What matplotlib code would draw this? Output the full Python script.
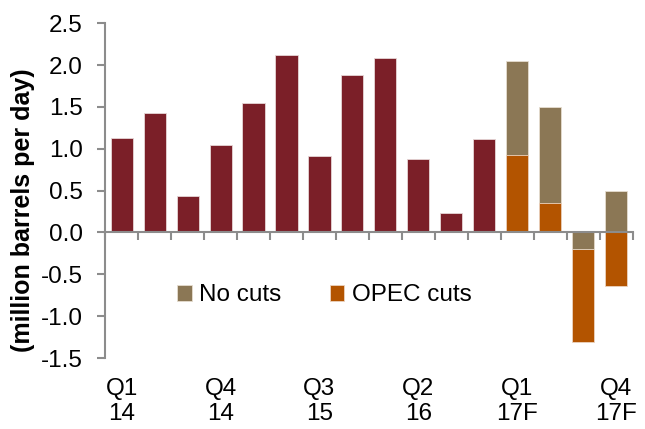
import matplotlib.pyplot as plt
import numpy as np

plt.rcParams['font.family'] = ['Liberation Sans', 'DejaVu Sans']

quarters = ['Q1 14', 'Q2 14', 'Q3 14', 'Q4 14', 'Q1 15', 'Q2 15', 'Q3 15', 'Q4 15',
            'Q1 16', 'Q2 16', 'Q3 16', 'Q4 16', 'Q1 17F', 'Q2 17F', 'Q3 17F', 'Q4 17F']
actual = [1.13, 1.43, 0.43, 1.05, 1.55, 2.12, 0.91, 1.88, 2.08, 0.88, 0.23, 1.12]
no_cuts = [2.05, 1.50, -0.20, 0.49]
opec_cuts = [0.92, 0.355, -1.31, -0.645]
tick_labels = ['Q1\n14', 'Q4\n14', 'Q3\n15', 'Q2\n16', 'Q1\n17F', 'Q4\n17F']
tick_every = 3

c_actual = '#7b1f28'
c_nocuts = '#8b7755'
c_opec = '#b35400'
grey = '#8c8c8c'
fs = 17.5

fig = plt.figure(figsize=(6.45, 4.29), dpi=100)
ax = fig.add_axes([0.163, 0.1655, 0.818, 0.7805])

x = np.arange(len(quarters))
xf = x[len(actual):]
w = 0.67
ax.bar(x[:len(actual)], actual, width=w, color=c_actual, edgecolor='#e6d6d6', linewidth=0.6)
b1 = ax.bar(xf, no_cuts, width=w, color=c_nocuts, edgecolor='#e6ddd0', linewidth=0.6, label='No cuts')
b2 = ax.bar(xf, opec_cuts, width=w, color=c_opec, edgecolor='#ecd3c0', linewidth=0.6, label='OPEC cuts')
# smaller bar drawn on top
for p1, p2, a, b in zip(b1, b2, no_cuts, opec_cuts):
    if abs(a) < abs(b):
        p1.set_zorder(3); p2.set_zorder(2)
    else:
        p1.set_zorder(2); p2.set_zorder(3)

ax.set_xlim(-0.5, len(quarters) - 0.5)
ax.set_ylim(-1.5, 2.5)
yt = np.arange(-1.5, 2.51, 0.5)
ax.set_yticks(yt)
ax.set_yticklabels([f'{v:.1f}' for v in yt], fontsize=fs)

for s in ['top', 'right']:
    ax.spines[s].set_visible(False)
ax.spines['left'].set_color(grey)
ax.spines['left'].set_linewidth(1.5)
ax.spines['bottom'].set_position(('data', 0))
ax.spines['bottom'].set_color(grey)
ax.spines['bottom'].set_linewidth(1.5)
ax.spines['bottom'].set_zorder(4)
ax.set_xticks(np.arange(-0.5, len(quarters), 1))
ax.set_xticklabels([])
ax.tick_params(axis='x', direction='out', length=6, width=1.5, color=grey)
ax.tick_params(axis='y', direction='out', length=6, width=1.5, color=grey, pad=10)

for i, lab in enumerate(tick_labels):
    ax.text(i * tick_every, -0.06, lab, transform=ax.get_xaxis_transform(),
            ha='center', va='top', fontsize=fs, linespacing=1.15)

fig.text(0.036, 0.51, '(million barrels per day)', rotation=90, ha='center', va='center',
         fontsize=18, fontweight='bold')

ax.legend(loc='upper left', bbox_to_anchor=(0.095, 0.285), ncol=2, frameon=False,
          fontsize=fs, handlelength=0.6, handleheight=0.6, handletextpad=0.3,
          columnspacing=2.0)

fig.savefig('out.png', dpi=100)
